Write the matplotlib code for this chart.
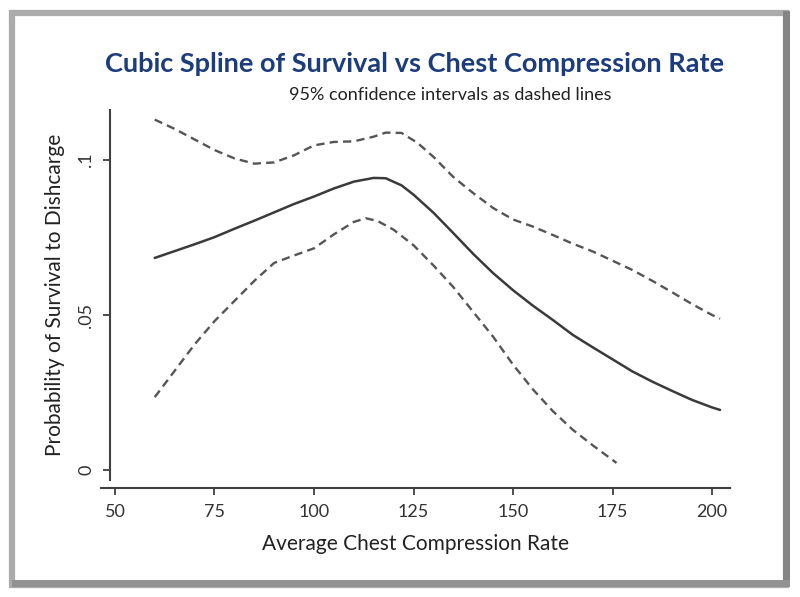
import matplotlib
matplotlib.use("Agg")
import matplotlib.pyplot as plt
from matplotlib.patches import Rectangle

# spline fit
rate = [60, 65, 70, 75, 80, 85, 90, 95, 100, 105, 110, 115, 118, 122, 125, 130,
        135, 140, 145, 150, 155, 160, 165, 170, 175, 180, 185, 190, 195, 200, 202]
surv = [0.0684, 0.0706, 0.0728, 0.0751, 0.0778, 0.0804, 0.0831, 0.0858, 0.0882,
        0.0908, 0.0930, 0.0942, 0.0941, 0.0918, 0.0888, 0.0830, 0.0764, 0.0697,
        0.0635, 0.0580, 0.0530, 0.0484, 0.0436, 0.0396, 0.0357, 0.0318, 0.0285,
        0.0255, 0.0226, 0.0202, 0.0194]
rate_up = [60, 65, 70, 75, 80, 85, 90, 95, 100, 105, 110, 115, 118, 122, 126, 130,
           135, 140, 145, 150, 155, 160, 165, 170, 175, 180, 185, 190, 195, 200, 202]
upper = [0.1130, 0.1100, 0.1066, 0.1032, 0.1005, 0.0988, 0.0992, 0.1015, 0.1047,
         0.1058, 0.1060, 0.1075, 0.1088, 0.1087, 0.1055, 0.1010, 0.0945, 0.0893,
         0.0845, 0.0808, 0.0785, 0.0758, 0.0730, 0.0705, 0.0675, 0.0645, 0.0610,
         0.0573, 0.0535, 0.0500, 0.0488]
rate_lo = [60, 65, 70, 75, 80, 85, 90, 95, 100, 105, 110, 113, 116, 120, 125,
           130, 135, 140, 145, 150, 155, 160, 165, 170, 176]
lower = [0.0235, 0.0320, 0.0405, 0.0480, 0.0545, 0.0610, 0.0668, 0.0692, 0.0715,
         0.0760, 0.0800, 0.0812, 0.0803, 0.0775, 0.0725, 0.0660, 0.0590, 0.0510,
         0.0430, 0.0340, 0.0260, 0.0190, 0.0130, 0.0080, 0.0023]

xticks = [50, 75, 100, 125, 150, 175, 200]
yticks = [0, 0.05, 0.1]
ylabels = ["0", ".05", ".1"]

fam = ["Lato", "DejaVu Sans"]

fig = plt.figure(figsize=(8, 5.97), dpi=100)
W, H = 800, 597

# frame with grey border
fig.add_artist(Rectangle((12 / W, 12 / H), 774 / W, 572 / H, transform=fig.transFigure,
                         fill=False, edgecolor="#ababab", linewidth=4.5))
fig.add_artist(Rectangle((783 / W, 12 / H), 7 / W, 574 / H, transform=fig.transFigure,
                         color="#858585", linewidth=0))
fig.add_artist(Rectangle((12 / W, 10 / H), 778 / W, 7 / H, transform=fig.transFigure,
                         color="#929292", linewidth=0))

ax = fig.add_axes([101 / W, (597 - 480) / H, 629 / W, 370 / H])
ax.plot(rate, surv, color="#3a3a3a", lw=1.8, solid_capstyle="round",
        solid_joinstyle="round")
ax.plot(rate_up, upper, color="#555555", lw=1.7, dashes=(3.5, 2.2))
ax.plot(rate_lo, lower, color="#555555", lw=1.7, dashes=(3.5, 2.2))

ax.set_xlim(46.5, 204.5)
ax.set_ylim(-0.0032, 0.1161)
for s in ["top", "right"]:
    ax.spines[s].set_visible(False)
ax.spines["left"].set_position(("data", 48.7))
ax.spines["bottom"].set_position(("outward", 6))
for s in ["left", "bottom"]:
    ax.spines[s].set_color("#404040")
    ax.spines[s].set_linewidth(1.5)

ax.set_xticks(xticks)
ax.set_xticklabels([str(t) for t in xticks], family=fam, fontsize=13, color="#333333")
ax.set_yticks(yticks)
ax.set_yticklabels(ylabels, family=fam, fontsize=13, color="#333333",
                   rotation=90, va="center")
ax.tick_params(length=5, width=1.3, color="#404040", pad=6)

ax.set_xlabel("Average Chest Compression Rate", family=fam, fontsize=15,
              color="#222222", labelpad=10)
ax.set_ylabel("Probability of Survival to Dishcarge", family=fam, fontsize=15,
              color="#222222", labelpad=10)

fig.text(415 / W, 1 - 64 / H, "Cubic Spline of Survival vs Chest Compression Rate",
         family=fam, fontweight="bold", fontsize=19.5, color="#1c3c7c",
         ha="center", va="center")
fig.text(450 / W, 1 - 95 / H, "95% confidence intervals as dashed lines",
         family=fam, fontsize=13, color="#222222", ha="center", va="center")

fig.savefig("out.png", dpi=100)
